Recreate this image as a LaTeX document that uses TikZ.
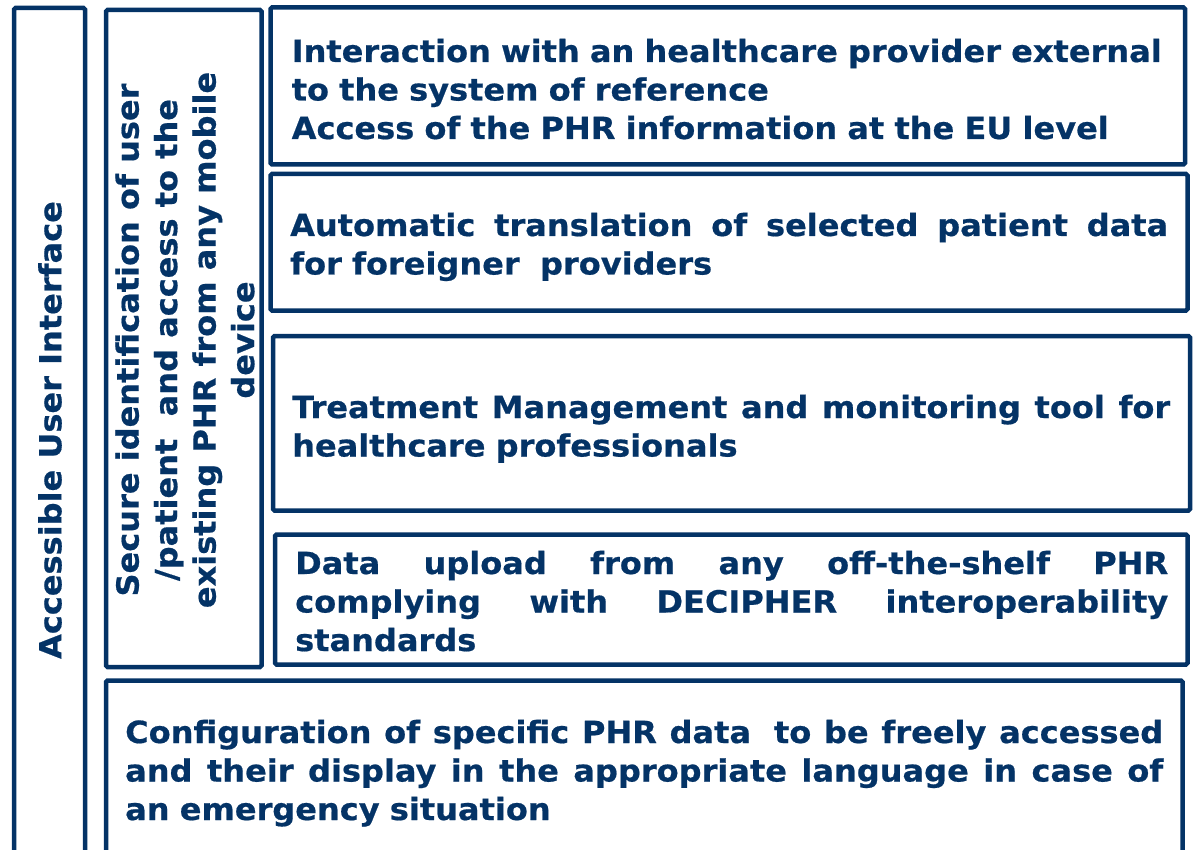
\documentclass[tikz,border=0pt]{standalone}
\usepackage{fontspec}
\setmainfont{DejaVu Sans}[FakeStretch=1.05,BoldFeatures={FakeBold=0.6}]
\definecolor{navy}{RGB}{4,51,102}
\newcommand{\jline}[2]{\leavevmode\hbox to #1{#2}}
\begin{document}
\begin{tikzpicture}[x=1pt,y=-1pt,
  box/.style={draw=navy,line width=4.5pt,rounded corners=1.5pt,inner sep=0pt},
  txt/.style={text=navy,font=\bfseries\fontsize{30.5}{38.5}\selectfont,inner sep=0pt,anchor=base west,align=left},
  vtxt/.style={text=navy,font=\bfseries\fontsize{30.5}{38.5}\selectfont,inner sep=0pt,anchor=center,align=center,rotate=90}
]
\useasboundingbox (0,0) rectangle (1193,850);
\clip (0,0) rectangle (1193,850);
% boxes
\node[box,minimum width=71pt,minimum height=862pt] (boxL) at (49.5,439) {};
\node[box,minimum width=155.5pt,minimum height=657pt] (boxS) at (183.75,338.5) {};
\node[box,minimum width=914.5pt,minimum height=157pt] (box1) at (727.75,86) {};
\node[box,minimum width=917pt,minimum height=136.5pt] (box2) at (729,242.25) {};
\node[box,minimum width=917pt,minimum height=174.5pt] (box3) at (731.5,423.25) {};
\node[box,minimum width=912.5pt,minimum height=130pt] (box4) at (731.25,599.5) {};
\node[box,minimum width=1076.5pt,minimum height=199.5pt] (box5) at (644.25,780.25) {};
% texts
\node[txt,text width=885pt] (t1) at (291.5,62) {Interaction with an healthcare provider external\\to the system of reference\\Access of the PHR information at the EU level};
\node[txt,text width=878pt] (t2) at (290,236) {\jline{878pt}{Automatic\hfill translation\hfill of\hfill selected\hfill patient\hfill data}\\for foreigner\ \ providers};
\node[txt,text width=878pt] (t3) at (292,418) {\jline{878pt}{Treatment\hfill Management\hfill and\hfill monitoring\hfill tool\hfill for}\\healthcare professionals};
\node[txt,text width=873pt] (t4) at (295,574) {\jline{873pt}{Data\hfill upload\hfill from\hfill any\hfill off-the-shelf\hfill PHR}\\\jline{873pt}{complying\hfill with\hfill DECIPHER\hfill interoperability}\\standards};
\node[txt,text width=1038pt] (t5) at (125,743) {\jline{1038pt}{Configuration\hfill of\hfill specific\hfill PHR\hfill data\ \hfill to\hfill be\hfill freely\hfill accessed}\\\jline{1038pt}{and\hfill their\hfill display\hfill in\hfill the\hfill appropriate\hfill language\hfill in\hfill case\hfill of}\\an emergency situation};
\node[vtxt] (tL) at (50,430) {Accessible User Interface};
\node[vtxt] (tS) at (185,340) {Secure identification of user\\/patient\ \ and access to the\\existing PHR from any mobile\\device};
\end{tikzpicture}
\end{document}
